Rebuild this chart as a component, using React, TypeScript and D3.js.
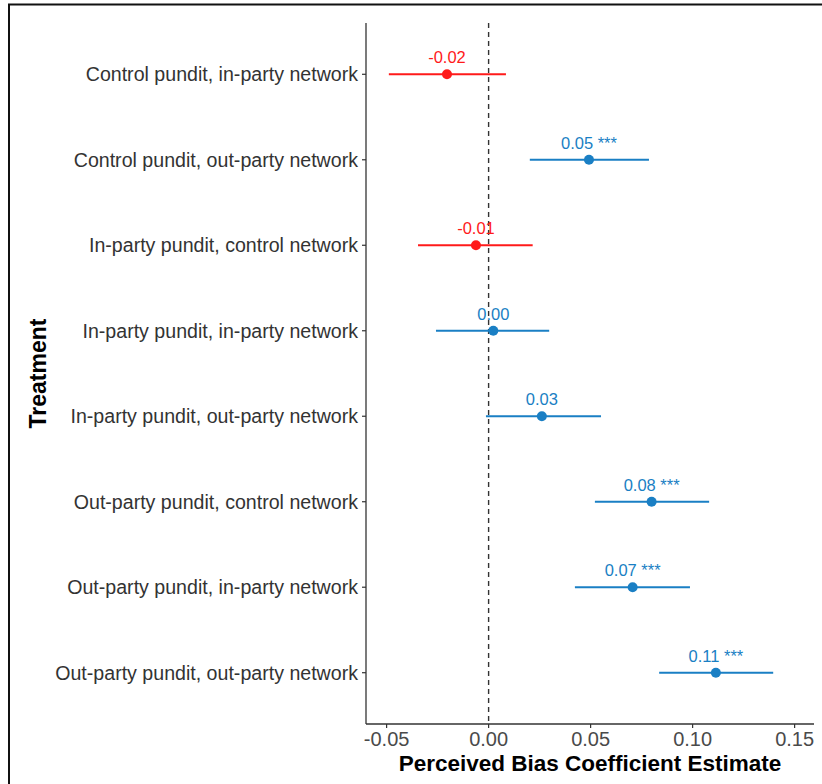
import React from "react";
import * as d3 from "d3";

const treatments = [
  "Control pundit, in-party network",
  "Control pundit, out-party network",
  "In-party pundit, control network",
  "In-party pundit, in-party network",
  "In-party pundit, out-party network",
  "Out-party pundit, control network",
  "Out-party pundit, in-party network",
  "Out-party pundit, out-party network",
];
const estimates = [-0.0204, 0.0492, -0.0062, 0.0023, 0.0261, 0.0799, 0.0706, 0.1114];
const lowerCI = [-0.0489, 0.0202, -0.0346, -0.0258, -0.0013, 0.0521, 0.0423, 0.0836];
const upperCI = [0.0085, 0.0786, 0.0216, 0.0297, 0.0551, 0.1081, 0.0987, 0.1395];
const estLabels = ["-0.02", "0.05", "-0.01", "0.00", "0.03", "0.08", "0.07", "0.11"];
const stars = ["", "***", "", "", "", "***", "***", "***"];
const xTicks = [-0.05, 0, 0.05, 0.1, 0.15];
const xTickLabels = ["-0.05", "0.00", "0.05", "0.10", "0.15"];

const W = 822;
const H = 784;
const left = 366;
const right = 814;
const top = 23;
const bottom = 724;
const FONT = "'Liberation Sans', Arial, Helvetica, sans-serif";
const RED = "#ff1a1a";
const BLUE = "#1a7fc4";

export default function App() {
  const x = d3.scaleLinear().domain([-0.0601, 0.1595]).range([left, right]);
  const y = d3.scalePoint<string>().domain(treatments).range([top, bottom]).padding(0.6);

  return (
    <svg
      width={W}
      height={H}
      style={{ position: "fixed", left: 0, top: 0, background: "#fff" }}
      fontFamily={FONT}
    >
      <rect x={0} y={0} width={W} height={H} fill="#fff" />
      <rect x={9} y={4.5} width={W + 20} height={H + 20} fill="none" stroke="#111" strokeWidth={2} />

      {/* zero reference line */}
      <line
        x1={x(0)}
        x2={x(0)}
        y1={top}
        y2={bottom}
        stroke="#333"
        strokeWidth={1.4}
        strokeDasharray="5,4"
      />

      {/* axes */}
      <line x1={left} x2={left} y1={top} y2={bottom} stroke="#333" strokeWidth={1.3} />
      <line x1={left} x2={right} y1={bottom} y2={bottom} stroke="#333" strokeWidth={1.3} />

      {/* y ticks */}
      {treatments.map((t) => (
        <g key={t}>
          <line x1={left - 4} x2={left} y1={y(t)} y2={y(t)} stroke="#333" strokeWidth={1.2} />
          <text
            x={left - 8}
            y={y(t)}
            dy="0.35em"
            textAnchor="end"
            fontSize={19.6}
            fill="#333"
          >
            {t}
          </text>
        </g>
      ))}

      {/* x ticks */}
      {xTicks.map((v, i) => (
        <g key={v}>
          <line x1={x(v)} x2={x(v)} y1={bottom} y2={bottom + 4} stroke="#333" strokeWidth={1.2} />
          <text x={x(v)} y={bottom + 22} textAnchor="middle" fontSize={20} fill="#4a4a4a">
            {xTickLabels[i]}
          </text>
        </g>
      ))}

      {/* estimates */}
      {treatments.map((t, i) => {
        const c = estimates[i] < 0 ? RED : BLUE;
        const cy = y(t) as number;
        const label = stars[i] ? `${estLabels[i]} ${stars[i]}` : estLabels[i];
        return (
          <g key={"e" + t}>
            <line x1={x(lowerCI[i])} x2={x(upperCI[i])} y1={cy} y2={cy} stroke={c} strokeWidth={2} />
            <circle cx={x(estimates[i])} cy={cy} r={5} fill={c} />
            <text x={x(estimates[i])} y={cy - 11} textAnchor="middle" fontSize={16.5} fill={c}>
              {label}
            </text>
          </g>
        );
      })}

      {/* axis titles */}
      <text
        x={(left + right) / 2}
        y={771}
        textAnchor="middle"
        fontSize={22.5}
        fontWeight="bold"
        fill="#000"
      >
        Perceived Bias Coefficient Estimate
      </text>
      <text
        transform={`translate(46, ${(top + bottom) / 2}) rotate(-90)`}
        textAnchor="middle"
        fontSize={23}
        fontWeight="bold"
        fill="#000"
      >
        Treatment
      </text>
    </svg>
  );
}
